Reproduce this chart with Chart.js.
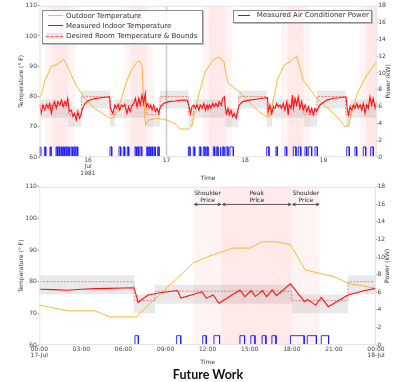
<!DOCTYPE html>
<html><head><meta charset="utf-8">
<script src="https://cdn.jsdelivr.net/npm/chart.js@4.4.0/dist/chart.umd.min.js"></script>
<style>
html,body{margin:0;padding:0;background:#fff;}
body{width:415px;height:382px;position:relative;overflow:hidden;font-family:"DejaVu Sans",sans-serif;}
canvas{position:absolute;left:0;}
#c1{top:0}
#c2{top:182px}
.leg{position:absolute;box-sizing:border-box;background:rgba(255,255,255,0.82);border:1px solid #8a8a8a;box-shadow:1px 1px 0 #bbb;font-size:7px;color:#333;}
.leg .t{position:absolute;white-space:nowrap;line-height:8px;}
.leg .s{position:absolute;height:0;}
#fw{position:absolute;left:0;top:367px;width:416px;text-align:center;font:bold 12.5px Lato,"Liberation Sans",sans-serif;line-height:15px;color:#111;}
</style></head>
<body>
<canvas id="c1" width="415" height="182"></canvas>
<canvas id="c2" width="415" height="186"></canvas>
<div class="leg" style="left:42px;top:10px;width:161px;height:34px;">
  <div class="s" style="left:5px;top:4px;width:15px;border-top:1px solid rgba(255,165,0,0.85);"></div>
  <div class="t" style="left:23px;top:0.5px;">Outdoor Temperature</div>
  <div class="s" style="left:5px;top:14px;width:15px;border-top:1.5px solid #ff0000;"></div>
  <div class="t" style="left:23px;top:11px;">Measured Indoor Temperature</div>
  <div style="position:absolute;left:3px;top:22px;width:17px;height:6px;background:rgba(0,0,0,0.09);"></div>
  <div class="s" style="left:3px;top:24.5px;width:17px;border-top:1px dashed rgba(255,0,0,0.6);"></div>
  <div class="t" style="left:23px;top:21px;">Desired Room Temperature &amp; Bounds</div>
</div>
<div class="leg" style="left:233px;top:10px;width:139px;height:12.5px;">
  <div class="s" style="left:4px;top:4px;width:12px;border-top:1px solid rgba(20,20,255,0.9);"></div>
  <div class="t" style="left:22.7px;top:0.3px;">Measured Air Conditioner Power</div>
</div>
<div id="fw">Future Work</div>
<script>
// ---------- TOP PANEL DATA (time = hours since 15 Jul 1981 00:00) ----------
const topXRange = [9.17, 112.27];
const topTickHours = [24, 48, 72, 96];
const topTickLabels = [['16','Jul','1981'], '17', '18', '19'];

const topIndoorTime = [9.2,9.7,10.2,10.8,11.3,11.8,12.3,12.8,13.3,13.8,14.3,14.8,15.4,15.9,16.4,16.9,17.4,17.8,18.3,18.9,19.4,19.9,20.4,20.9,21.4,21.8,22.3,23.0,24,26,28,30.6,30.9,31.6,32.2,32.7,33.2,33.7,34.2,34.7,35.2,35.9,36.4,36.9,37.5,38.0,38.5,39.0,39.5,40.0,40.5,41.0,41.5,41.8,42.3,42.7,43.2,43.6,44.1,44.6,45.1,45.6,46.1,47.1,48.7,50.7,52.7,54.3,54.8,55.3,55.8,56.3,56.8,57.3,57.9,58.3,58.9,59.4,59.9,60.4,60.7,61.1,61.6,62.1,62.6,63.1,63.7,64.1,64.7,65.2,65.7,66.0,66.4,66.8,67.2,67.7,68.2,68.7,69.3,69.8,70.3,71.3,73.3,75.4,77.4,78.9,79.1,79.6,80.2,80.7,81.2,81.7,82.2,82.7,83.2,83.7,84.2,84.8,85.2,85.5,86.1,86.5,86.8,87.3,87.8,88.3,88.8,89.3,89.8,90.4,90.9,91.4,91.9,92.4,92.9,93.4,93.9,94.9,97.0,99.0,101.0,102.9,103.3,103.6,104.1,104.6,105.1,105.6,106.2,106.6,107.2,107.7,108.2,108.7,109.2,109.7,110.2,110.7,111.2,111.8,112.27];
const topIndoorTemp = [77.2,74.4,77.2,75.5,77.4,76.1,77.7,74.4,77.2,78.3,76.1,78.3,77.2,78.8,76.6,78.3,77.2,79.4,75.0,75.5,73.3,74.4,72.2,75.0,72.8,73.8,76.0,77.6,78.6,79.3,79.6,79.9,76.1,74.4,77.2,76.1,77.4,75.5,77.2,76.6,77.4,74.4,76.6,75.0,77.2,77.7,79.4,76.6,79.4,77.2,80.5,77.7,81.0,76.6,77.7,76.1,77.2,75.5,77.2,75.0,76.1,74.4,76.6,77.7,78.3,78.5,78.8,78.8,77.2,74.4,76.6,77.2,76.1,77.2,75.5,77.2,76.1,77.7,75.5,77.2,75.8,77.2,76.1,77.7,76.6,77.7,76.6,78.3,77.2,79.4,79.9,76.1,74.4,76.1,73.9,75.5,73.3,74.4,72.8,75.5,77.2,78.3,78.8,79.1,79.4,79.6,75.0,77.2,74.4,76.6,76.1,77.7,76.6,77.2,76.1,77.7,75.5,78.3,73.9,77.2,76.1,80.5,76.1,79.4,77.2,79.9,76.1,78.3,75.5,77.2,75.0,76.6,74.4,76.1,73.9,76.1,75.0,77.2,78.8,79.4,79.6,79.9,75.5,73.9,76.6,75.5,77.2,76.1,77.7,76.1,77.2,75.5,77.7,74.4,77.2,76.1,79.9,77.2,79.4,76.1,78.3];

const topOutdoorTime = [9.17,9.84,10.76,12.78,14.22,15.44,16.51,17.27,18.89,20.48,22.99,26.05,29.11,30.73,31.95,33.17,34.4,35.83,37.3,38.7,39.75,40.51,40.97,41.58,42.5,45.1,48.15,50.9,52.13,54.88,55.8,57.85,59.77,61.3,62.22,64.05,65.58,66.19,66.8,70.17,73.22,76.28,78.42,79.49,80.41,82.0,84.02,85.76,86.68,87.81,88.82,89.83,93.92,97.99,101.04,102.57,103.58,106.15,109.21,112.27];
const topOutdoorTemp = [79.5,81,85,90,90.5,91.3,92.3,91,87.1,83.5,79.4,76.1,73.9,72.8,73,75.5,80,85,88.8,91,91.8,90,80,70.5,72.2,72.8,72.2,70.8,69.3,69.2,70.6,80.5,88,90.5,92.1,93,91.5,87.5,84.5,81.6,78.3,75,73.3,73.3,77.5,86,90.4,91.5,92.5,93.2,89.5,85.4,79.4,75.5,72.2,70,70.3,80.5,87.1,91.5];

const topPulseStart = [9.17,10.64,12.38,14.22,14.92,15.74,16.45,17.18,17.98,18.8,19.63,20.42,30.73,33.48,34.8,36.02,38.37,39.07,39.9,41.95,42.74,43.47,44.27,45.3,54.67,56.19,58.03,59.26,60.29,62.31,63.35,64.36,65.18,66.19,67.41,78.63,81.48,84.23,86.77,88.3,90.35,91.35,93.4,103.09,105.63,108.17,110.43];
const topPulseEnd   = [9.54,11.07,12.69,14.61,15.35,16.05,16.75,17.58,18.28,19.2,20.03,20.85,31.25,34.0,35.22,36.44,38.77,39.5,40.42,42.34,43.05,43.78,44.58,45.71,55.18,56.62,58.46,59.77,60.69,62.73,63.75,64.66,65.58,66.8,68.43,79.34,81.88,84.75,87.59,89.04,90.86,92.39,94.11,103.88,106.15,108.9,111.23];
const topPulseKW = [1.2];

const topSchedTime = [9.17,18,22,30.75,32.25,42,46,54.75,56.25,66,70,78.75,80.25,90,94,102.75,104.25,112.27];
const topSetpoint  = [77,74,80,74,77,74,80,74,77,74,80,74,77,74,80,74,77,77];
const topUpper     = [79,76,82,76,79,76,82,76,79,76,82,76,79,76,82,76,79,79];
const topLower     = [73,70,76,70,73,70,76,70,73,70,76,70,73,70,76,70,73,73];

const topShoulder = [[11,13],[18,20],[35,37],[42,44],[59,61],[66,68],[83,85],[90,92],[107,109]];
const topPeak = [[13,18],[37,42],[61,66],[85,90],[109,114]];
const topMarkLine = [48];

// ---------- BOTTOM PANEL DATA (time = hours of 17 Jul) ----------
const botXRange = [0, 24];
const botTickHours = [0,3,6,9,12,15,18,21,24];
const botTickLabels = [['00:00','17-Jul'],'03:00','06:00','09:00','12:00','15:00','18:00','21:00',['00:00','18-Jul']];

const botIndoorTime = [0,1,2,3,4,5,6,6.75,7.05,7.75,8.5,9.17,9.85,10.1,11.6,11.9,12.4,12.8,14.3,14.65,15.1,15.4,15.9,16.2,16.6,16.9,17.9,18.9,19.1,19.7,20.1,20.6,22.0,23.2,24];
const botIndoorTemp = [77.6,77.5,77.3,77.6,77.8,77.9,78.0,78.1,73.5,75.8,76.4,76.8,77.2,74.8,76.8,74.8,75.8,73.2,77.4,75.3,77.2,75.3,77.2,75.3,77.4,75.6,79.3,73.7,74.4,72.6,75.0,72.1,75.8,77.2,77.9];

const botOutdoorTime = [0,2,4,5,6.9,11,12.2,13.8,15,15.85,16.9,17.9,18.95,21,22,24];
const botOutdoorTemp = [72.6,70.8,70.8,68.9,68.9,86,88.2,90.6,90.6,92.6,92.6,91.7,83.7,81.6,79.5,77.9];

const botPulseStart = [6.82,9.79,11.65,12.45,14.3,15.08,15.88,16.58,17.9,19.1,20.1];
const botPulseEnd   = [7.06,10.08,11.9,12.85,14.63,15.37,16.15,16.87,18.88,19.75,20.62];
const botPulseKW = [1.06];

const botSchedTime = [0,6.75,8.25,18,22,24];
const botSetpoint  = [80,74,77,74,80,80];
const botUpper     = [82,76,79,76,82,82];
const botLower     = [76,70,73,70,76,76];

const botShoulder = [[11,13],[18,20]];
const botPeak = [[13,18]];
const botPriceSpans = [[11,13],[13,18],[18,20]];
const botPriceLabels = [['Shoulder','Price'],['Peak','Price'],['Shoulder','Price']];

// ---------- helpers ----------
const pts = (ts, vs) => ts.map((t, i) => ({x: t, y: vs[i]}));
function pulseSeries(starts, ends, level, range) {
  const d = [{x: range[0], y: 0}];
  starts.forEach((s, i) => { d.push({x: s, y: 0}, {x: s, y: level}, {x: ends[i], y: level}, {x: ends[i], y: 0}); });
  d.push({x: range[1], y: 0});
  return d;
}
function makeDatasets(p) {
  const base = {pointRadius: 0, tension: 0, fill: false};
  return [
    {...base, data: pts(p.inT, p.inV), borderColor: '#ff1010', borderWidth: 1.1, order: 1},
    {...base, data: pts(p.outT, p.outV), borderColor: 'rgba(255,165,0,0.8)', borderWidth: 1, order: 2},
    {...base, data: pulseSeries(p.pS, p.pE, p.pL, p.range), yAxisID: 'y2', borderColor: 'rgba(25,25,255,0.9)', borderWidth: 1, order: 0},
    {...base, data: pts(p.sT, p.sp), stepped: 'before', borderColor: 'rgba(255,0,0,0.6)', borderWidth: 0.8, borderDash: [2, 1.5], order: 3},
    {...base, data: pts(p.sT, p.up), stepped: 'before', borderColor: 'rgba(0,0,0,0)', borderWidth: 0, order: 5},
    {...base, data: pts(p.sT, p.lo), stepped: 'before', borderColor: 'rgba(0,0,0,0)', borderWidth: 0, fill: 4, backgroundColor: 'rgba(0,0,0,0.085)', order: 4}
  ];
}

const FONT = '"DejaVu Sans"';
const tickFont = {family: FONT, size: 6, lineHeight: 1.1};
const titleFont = {family: FONT, size: 6, lineHeight: 1.2};

const bgPlugin = {
  id: 'bg',
  beforeDatasetsDraw(chart, args, o) {
    const {ctx, chartArea: a, scales: {x}} = chart;
    ctx.save();
    ctx.beginPath(); ctx.rect(a.left, a.top, a.right - a.left, a.bottom - a.top); ctx.clip();
    const band = (list, color) => {
      ctx.fillStyle = color;
      list.forEach(([s, e]) => { const x0 = x.getPixelForValue(s), x1 = x.getPixelForValue(e); ctx.fillRect(x0, a.top, x1 - x0, a.bottom - a.top); });
    };
    band(o.shoulder, 'rgba(255,0,0,0.045)');
    band(o.peak, 'rgba(255,0,0,0.085)');
    (o.vlines || []).forEach(v => {
      const px = x.getPixelForValue(v);
      ctx.strokeStyle = 'rgba(160,160,160,0.55)'; ctx.lineWidth = 1.5;
      ctx.beginPath(); ctx.moveTo(px, a.top); ctx.lineTo(px, a.bottom); ctx.stroke();
    });
    ctx.restore();
  },
  afterDraw(chart, args, o) {
    const {ctx, chartArea: a, scales: {x, y, y2}} = chart;
    ctx.save();
    ctx.strokeStyle = '#e4e4e4'; ctx.lineWidth = 1;
    ctx.strokeRect(a.left + 0.5, a.top + 0.5, a.right - a.left - 1, a.bottom - a.top - 1);
    ctx.restore();
    ctx.save();
    ctx.translate(y2.left + 11.8, (a.top + a.bottom) / 2);
    ctx.rotate(-Math.PI / 2);
    ctx.font = '6px ' + FONT; ctx.fillStyle = '#333'; ctx.textAlign = 'center'; ctx.textBaseline = 'middle';
    ctx.fillText('Power (kW)', 0, 0);
    ctx.restore();
    if (o.notes) {
      const n = o.notes;
      ctx.save();
      ctx.font = '6px ' + FONT; ctx.fillStyle = '#222'; ctx.textAlign = 'center'; ctx.textBaseline = 'middle';
      ctx.strokeStyle = '#333'; ctx.lineWidth = 0.8;
      const ay = y.getPixelForValue(n.arrowT);
      n.spans.forEach(([s, e], i) => {
        const x0 = x.getPixelForValue(s) + 0.8, x1 = x.getPixelForValue(e) - 0.8;
        const cx = (x0 + x1) / 2;
        n.labels[i].forEach((line, k) => ctx.fillText(line, cx, y.getPixelForValue(n.textT[k])));
        ctx.beginPath();
        ctx.moveTo(x0, ay); ctx.lineTo(x1, ay);
        ctx.moveTo(x0 + 3, ay - 1.4); ctx.lineTo(x0, ay); ctx.lineTo(x0 + 3, ay + 1.4);
        ctx.moveTo(x1 - 3, ay - 1.4); ctx.lineTo(x1, ay); ctx.lineTo(x1 - 3, ay + 1.4);
        ctx.stroke();
      });
      ctx.restore();
    }
  }
};

function makeOptions(c) {
  return {
    responsive: false, animation: false, events: [],
    layout: {padding: {top: c.padTop, left: 0, right: 0, bottom: 0}},
    plugins: {legend: {display: false}, tooltip: {enabled: false}, bg: c.bg},
    scales: {
      x: {
        type: 'linear', min: c.range[0], max: c.range[1],
        afterBuildTicks: s => { s.ticks = c.ticks.map(v => ({value: v})); },
        afterFit: s => { s.height = c.xh; },
        ticks: {autoSkip: false, maxRotation: 0, minRotation: 0, font: tickFont, color: '#444', padding: c.xpad,
                callback: (v, i) => c.labels[i]},
        grid: {display: true, drawOnChartArea: false, drawTicks: false},
        border: {display: false},
        title: {display: true, text: 'Time', font: titleFont, color: '#333', padding: {top: 0, bottom: c.tpb}}
      },
      y: {
        position: 'left', min: 60, max: 110,
        afterFit: s => { s.width = c.left; },
        ticks: {stepSize: 10, font: tickFont, color: '#444', padding: 0.5},
        grid: {display: true, drawOnChartArea: false, tickLength: 2, tickColor: '#999', tickWidth: 0.8},
        border: {display: false},
        title: {display: true, text: 'Temperature (° F)', font: titleFont, color: '#333', padding: {top: 18, bottom: 0}}
      },
      y2: {
        position: 'right', min: 0, max: 18,
        afterFit: s => { s.width = c.right; },
        ticks: {stepSize: 2, font: tickFont, color: '#444', padding: 0},
        grid: {display: true, drawOnChartArea: false, tickLength: 1.5, tickColor: '#999', tickWidth: 0.8},
        border: {display: false}
      }
    }
  };
}

new Chart(document.getElementById('c1'), {
  type: 'line',
  data: {datasets: makeDatasets({inT: topIndoorTime, inV: topIndoorTemp, outT: topOutdoorTime, outV: topOutdoorTemp,
    pS: topPulseStart, pE: topPulseEnd, pL: topPulseKW[0], range: topXRange,
    sT: topSchedTime, sp: topSetpoint, up: topUpper, lo: topLower})},
  options: makeOptions({padTop: 5.7, range: topXRange, ticks: topTickHours, labels: topTickLabels,
    xh: 25, xpad: 0, tpb: 0, left: 39.5, right: 38.3,
    bg: {shoulder: topShoulder, peak: topPeak, vlines: topMarkLine}}),
  plugins: [bgPlugin]
});

new Chart(document.getElementById('c2'), {
  type: 'line',
  data: {datasets: makeDatasets({inT: botIndoorTime, inV: botIndoorTemp, outT: botOutdoorTime, outV: botOutdoorTemp,
    pS: botPulseStart, pE: botPulseEnd, pL: botPulseKW[0], range: botXRange,
    sT: botSchedTime, sp: botSetpoint, up: botUpper, lo: botLower})},
  options: makeOptions({padTop: 4.7, range: botXRange, ticks: botTickHours, labels: botTickLabels,
    xh: 23, xpad: 1, tpb: 2.4, left: 39.3, right: 39,
    bg: {shoulder: botShoulder, peak: botPeak,
         notes: {spans: botPriceSpans, labels: botPriceLabels, arrowT: 104.4, textT: [107.9, 105.8]}}}),
  plugins: [bgPlugin]
});
</script>
</body></html>
